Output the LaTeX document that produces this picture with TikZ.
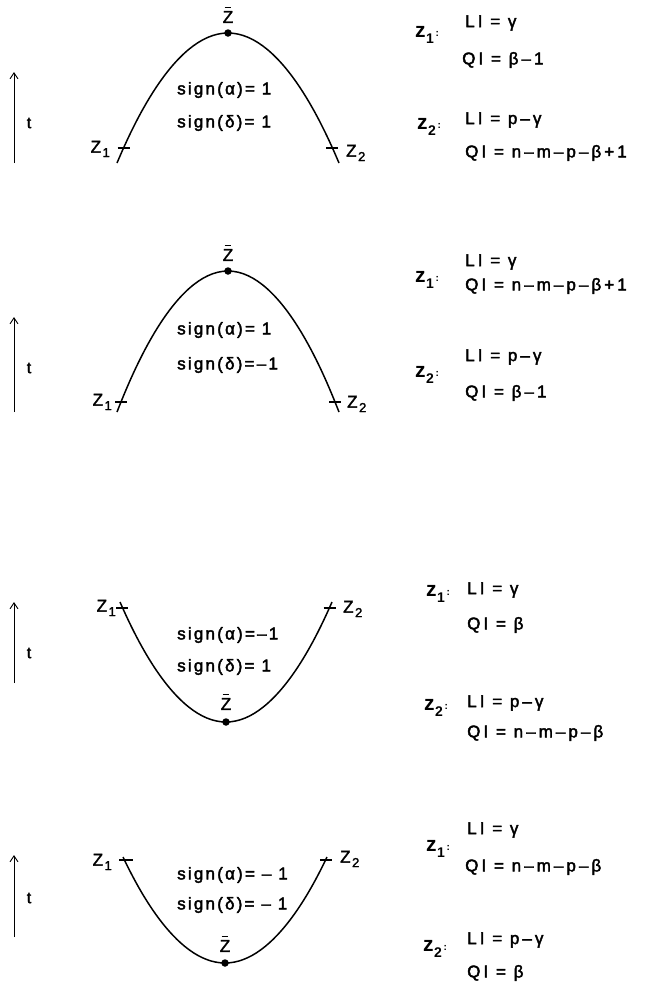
\documentclass[tikz,border=0pt]{standalone}
\usepackage{fontspec}
\setmainfont{Liberation Sans}[FakeBold=2]
\newfontfamily\spfont{Liberation Sans}[LetterSpace=13,FakeBold=2.4]
\newfontfamily\eqfont{Liberation Sans}[LetterSpace=18,FakeBold=2.4]
\newfontfamily\bdfont{Liberation Sans Bold}
\usetikzlibrary{arrows.meta}
\newcommand\zsubl[1]{Z\kern1.5pt\raisebox{-0.5ex}{\fontsize{13}{13}\selectfont #1}}
\newcommand\zbarl{\ooalign{Z\cr\hidewidth\rule[0.86em]{0.4em}{0.08em}\hidewidth\cr}}
\newcommand\zlab[1]{z\kern0.5pt\raisebox{-0.5ex}{\fontsize{14}{14}\selectfont #1}\raisebox{0.15ex}{\fontsize{10}{10}\selectfont\,:}}
\tikzset{
  curve/.style={line width=1.5pt},
  tarrow/.style={line width=0.9pt,-{Straight Barb[length=6pt,width=8pt,line width=0.9pt]}},
  tickmark/.style={line width=1.3pt},
  dot/.style={circle,fill,inner sep=0pt,minimum size=7.5pt},
  signtxt/.style={font=\spfont\fontsize{17}{18}\selectfont,inner sep=0pt,anchor=west},
  eqtxt/.style={font=\eqfont\fontsize{17}{18}\selectfont,inner sep=0pt,anchor=west},
  zlbl/.style={font=\fontsize{17}{20}\selectfont,inner sep=0pt},
  tlbl/.style={font=\fontsize{16}{16}\selectfont,inner sep=0pt},
  zname/.style={font=\bdfont\fontsize{21}{22}\selectfont,inner sep=0pt,anchor=west},
}
\begin{document}
\begin{tikzpicture}[x=1pt,y=-1pt]
\useasboundingbox (0,0) rectangle (647,989);

% ---------- panel 1 ----------
\coordinate (a1b) at (14,163); \coordinate (a1t) at (14,72);
\draw[tarrow] (a1b) -- (a1t);
\node[tlbl] (t1) at (29,123) {t};
\coordinate (L1) at (117,163); \coordinate (B1) at (228,33); \coordinate (R1) at (339,163);
\draw[curve] (L1) parabola bend (B1) (R1);
\node[dot] (d1) at (B1) {};
\node[zlbl] (zb1) at (228,17) {\zbarl};
\coordinate (k1L) at (123.6,148); \coordinate (k1R) at (332.4,148);
\draw[tickmark] ([xshift=-6pt]k1L) -- ([xshift=6pt]k1L);
\draw[tickmark] ([xshift=-6pt]k1R) -- ([xshift=6pt]k1R);
\node[zlbl,anchor=east] (z1a) at (110,149) {\zsubl{1}};
\node[zlbl,anchor=west] (z2a) at (346,153) {\zsubl{2}};
\node[signtxt] (s1a) at (177,90) {sign(α)= 1};
\node[signtxt] (s1b) at (177,123) {sign(δ)= 1};
\node[zname] (n1a) at (415,35) {\zlab{1}};
\node[eqtxt] (e1a) at (465,23) {LI = γ};
\node[eqtxt] (e1b) at (462,60) {QI = β–1};
\node[zname] (n1b) at (417,127) {\zlab{2}};
\node[eqtxt] (e1c) at (465,120) {LI = p–γ};
\node[eqtxt] (e1d) at (465,153) {QI = n–m–p–β+1};

% ---------- panel 2 ----------
\coordinate (a2b) at (14,412); \coordinate (a2t) at (14,317);
\draw[tarrow] (a2b) -- (a2t);
\node[tlbl] (t2) at (29,368) {t};
\coordinate (L2) at (117,412); \coordinate (B2) at (228,271); \coordinate (R2) at (339,412);
\draw[curve] (L2) parabola bend (B2) (R2);
\node[dot] (d2) at (B2) {};
\node[zlbl] (zb2) at (228,255) {\zbarl};
\coordinate (k2L) at (121,402); \coordinate (k2R) at (335,402);
\draw[tickmark] ([xshift=-6pt]k2L) -- ([xshift=6pt]k2L);
\draw[tickmark] ([xshift=-6pt]k2R) -- ([xshift=6pt]k2R);
\node[zlbl,anchor=east] (z1b) at (112,402) {\zsubl{1}};
\node[zlbl,anchor=west] (z2b) at (347,404) {\zsubl{2}};
\node[signtxt] (s2a) at (177,330) {sign(α)= 1};
\node[signtxt] (s2b) at (177,365) {sign(δ)=–1};
\node[zname] (n2a) at (415,280) {\zlab{1}};
\node[eqtxt] (e2a) at (465,262) {LI = γ};
\node[eqtxt] (e2b) at (465,286) {QI = n–m–p–β+1};
\node[zname] (n2b) at (415,375) {\zlab{2}};
\node[eqtxt] (e2c) at (465,357) {LI = p–γ};
\node[eqtxt] (e2d) at (465,393) {QI = β–1};

% ---------- panel 3 ----------
\coordinate (a3b) at (14,683); \coordinate (a3t) at (14,602);
\draw[tarrow] (a3b) -- (a3t);
\node[tlbl] (t3) at (29,653) {t};
\coordinate (L3) at (120,602); \coordinate (B3) at (226,722); \coordinate (R3) at (332,602);
\draw[curve] (L3) parabola bend (B3) (R3);
\node[dot] (d3) at (B3) {};
\node[zlbl] (zb3) at (226,704) {\zbarl};
\coordinate (k3L) at (122.3,608); \coordinate (k3R) at (329.7,608);
\draw[tickmark] ([xshift=-6pt]k3L) -- ([xshift=6pt]k3L);
\draw[tickmark] ([xshift=-6pt]k3R) -- ([xshift=6pt]k3R);
\node[zlbl,anchor=east] (z1c) at (116,608) {\zsubl{1}};
\node[zlbl,anchor=west] (z2c) at (343,609) {\zsubl{2}};
\node[signtxt] (s3a) at (177,635) {sign(α)=–1};
\node[signtxt] (s3b) at (177,667) {sign(δ)= 1};
\node[zname] (n3a) at (426,594) {\zlab{1}};
\node[eqtxt] (e3a) at (467,590) {LI = γ};
\node[eqtxt] (e3b) at (467,625) {QI = β};
\node[zname] (n3b) at (424,708) {\zlab{2}};
\node[eqtxt] (e3c) at (467,703) {LI = p–γ};
\node[eqtxt] (e3d) at (467,733) {QI = n–m–p–β};

% ---------- panel 4 ----------
\coordinate (a4b) at (14,937); \coordinate (a4t) at (14,855);
\draw[tarrow] (a4b) -- (a4t);
\node[tlbl] (t4) at (29,898) {t};
\coordinate (L4) at (123,857); \coordinate (B4) at (225,963); \coordinate (R4) at (327,857);
\draw[curve] (L4) parabola bend (B4) (R4);
\node[dot] (d4) at (B4) {};
\node[zlbl] (zb4) at (225,946) {\zbarl};
\coordinate (k4L) at (126,860); \coordinate (k4R) at (326,860);
\draw[tickmark] ([xshift=-7pt]k4L) -- ([xshift=7pt]k4L);
\draw[tickmark] ([xshift=-6pt]k4R) -- ([xshift=6pt]k4R);
\node[zlbl,anchor=east] (z1d) at (112,862) {\zsubl{1}};
\node[zlbl,anchor=west] (z2d) at (340,859) {\zsubl{2}};
\node[signtxt] (s4a) at (177,875) {sign(α)= – 1};
\node[signtxt] (s4b) at (177,905) {sign(δ)= – 1};
\node[zname] (n4a) at (426,849) {\zlab{1}};
\node[eqtxt] (e4a) at (467,830) {LI = γ};
\node[eqtxt] (e4b) at (465,867) {QI = n–m–p–β};
\node[zname] (n4b) at (423,949) {\zlab{2}};
\node[eqtxt] (e4c) at (467,940) {LI = p–γ};
\node[eqtxt] (e4d) at (467,973) {QI = β};
\end{tikzpicture}
\end{document}
